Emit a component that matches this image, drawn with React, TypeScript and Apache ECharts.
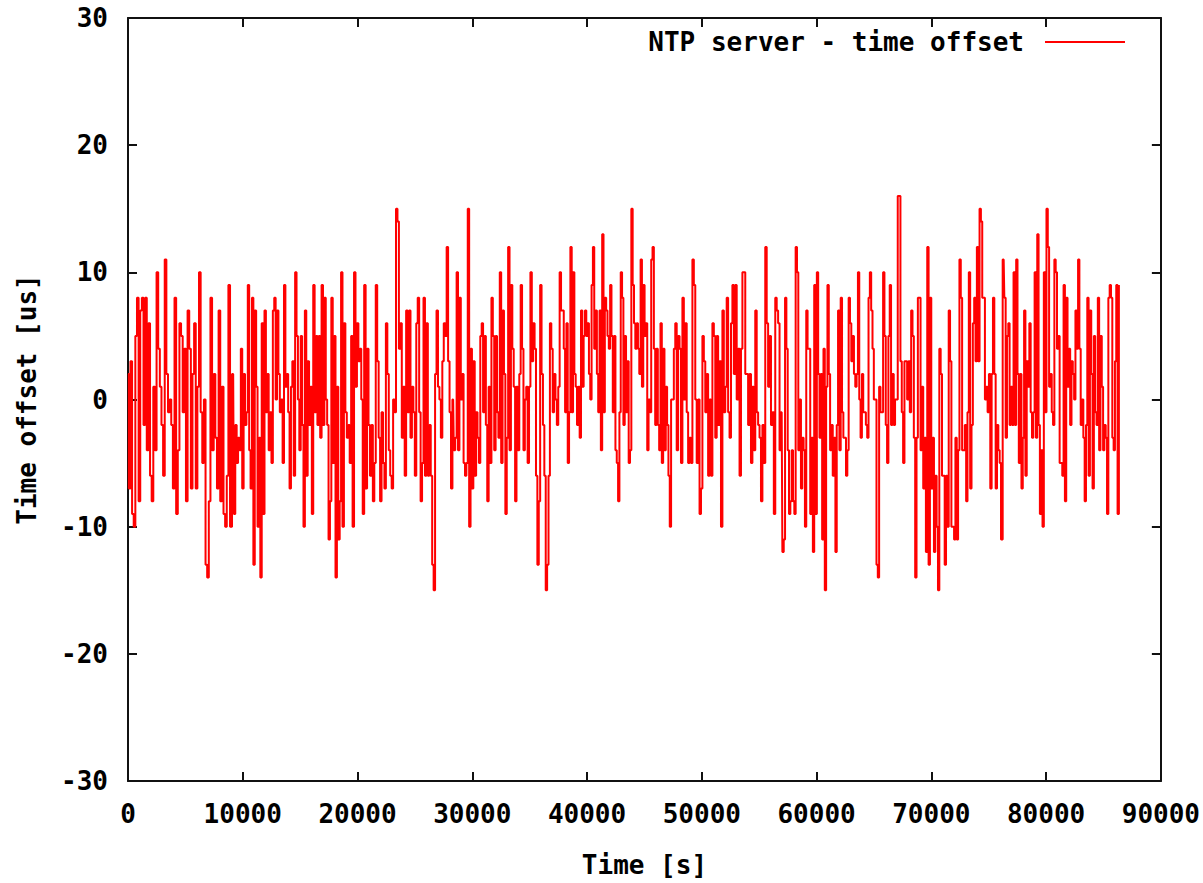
import React, { useEffect, useRef } from "react";
import * as echarts from "echarts";

// Time offset readings [us], read segment by segment across the day
const seg1 = [2, -7, 3, -9, -10, 5, 8, -8, 7, 8, -2, 8, -4, 6, -6, -8, 1, -4, 10, 4, 1, -2, -6, 11, 2, -1, 0, -2, -7, 8, -9, -4, 6, 5, -1, 4, -8, 7, 4, -7, 2, 6, -7, 1, 10, -1, -5, 0, -13, -14, -8, 8, -4, 2, -3, -7, 7, -8, 1, -9, -10, -6, 9, -10];
const seg2 = [2, -9, -2, -5, -3, -4, 4, -7, 2, -2, -1, 9, -4, -7, 8, -13, 7, 1, -10, -3, -14, 6, -9, 7, -1, 2, -4, -1, -5, 7, 8, 0, 7, 2, -1, 0, -5, 9, 1, 2, -1, -7, 1, 3, -6, 10, 5, 0, -4, 5, -2, -10, 7, -6, 3, -2, 1, -9, 9, -1, 5, -2, 5, -3, 9, -2, 8, 0, -2, -11, -8, 8, -5, 5, -14, 1, -11, -8, 10];
const seg3 = [-10, 6, -1, -3, -2, -5, 5, -10, 10, 1, 6, 3, 4, 0, -9, 9, -7, 4, -2, -6, -2, -8, -5, 9, 3, -3, -8, -1, -5, -7, 6, 2, -4, -6, -7, 0, -1, 15, 14, 4, 6, -3, 1, -6, 7, -1, 7, -3, 1, -1, -6, 6, 8, -1, -8, -5, 8, -6, 6, -6, -2, -6, -13, -15, 2, 7, 1, 0, -3, 3, 6, 5, 12, 3, -1, -7];
const seg4 = [0, -4, -3, 10, -4, 8, 0, 2, -5, -6, -5, 15, -10, 4, -7, 3, -6, -1, -3, -5, 5, 6, -1, 5, -2, -8, 1, -5, 8, 5, -4, 5, -1, -3, 10, -5, 7, 2, -9, -3, 12, -4, 9, 4, 1, -8, 1, -4, 2, 9, 4, -4, 0, 1, -5, 1, 10, 3, 6, 4, -6, -13, -8, 9, 2, -2, -6, -15, -13, -6, 6, 4, -1, 2, 0, -2, 1, 10, 7];
const seg5 = [7, 4, -1, 6, -5, -1, 12, -1, 10, 2, 1, -2, 1, -3, 7, 1, 5, 7, 5, 6, 2, 0, 9, 12, 4, 7, 2, -1, 7, -4, 13, -1, 8, 7, 5, 4, 9, 5, -1, 5, -4, -5, -8, -1, 10, 8, -2, 5, -1, 3, -5, -4, 15, 9, 6, 4, 6, 4, 2, 11, 1, 9, 5, 6, -4, 0, -1, 11, 12, 4, -2, 4, -2, -4, 6, -5, 4, -4, 1, -2, -6, -10, 0];
const seg6 = [0, 4, 6, -4, 5, 4, -5, 8, 0, 6, -1, -5, -3, -5, 11, 9, 0, -5, 0, -9, -7, 5, 3, -1, 2, -6, 0, -6, 6, 5, -3, 5, -2, 3, -10, 7, -1, 1, 8, -1, -3, 6, 9, 2, 9, 0, 4, -6, 4, 10, 10, 2, 2, -2, 2, -5, 1, -4, 7, -1, -2, -3, -8, -2, -5, 12, 6, 1, 5, -2, -1, -9, 8, 7, 6, -4, -1];
const seg7 = [-12, -11, 8, 4, -4, -9, -8, -4, -8, -9, 12, 10, -4, 0, -7, -3, -4, -10, 7, 4, 4, -9, -3, -12, 9, -9, 10, 2, -3, 2, -11, 4, -15, 1, 9, 2, -4, -2, -6, -3, -12, -2, 7, -4, 8, -1, -3, -3, -6, -4, 8, 6, 3, 5, 2, 1, 2, 10, 0, -3, 2, -1, -1, -2, -3, 8, 10, 7, 4, 0, 0, -13, -14, 1, -1, -1, 10, 5, -2, -5, 5, 9, -2];
const seg8 = [2, -2, 0, 0, 16, 16, 3, -1, -5, 3, 3, 0, 3, -1, 7, 5, -3, -14, -3, 8, 8, -4, 1, -7, -3, -12, 12, -13, 8, -7, -3, -12, -6, -10, -15, 4, 2, -6, -6, -13, -6, -10, 7, 3, -10, -10, -11, -3, -11, -4, 11, 8, -4, -4, -2, -8, -1, 10, -7, -2, 6, 8, 3, 12, 3, 15, 14, 8, 8, 0, 1, -1, 2, -7, 2, 8, 2, -7, -2, -4, -5, -11];
const seg9 = [11, 8, -3, 5, 6, -2, 1, -2, 10, -2, 11, 2, -5, 2, -7, -3, 7, -6, 3, 1, 6, -1, -3, -1, 10, -3, 13, -2, -9, -4, -10, 10, -1, 15, 12, 1, 2, -1, -2, 11, 10, 4, 5, -5, -5, -6, 9, -8, 8, 1, 4, -2, 3, 2, 0, 7, 4, 11, 4, -2, 0, -3, -8, -2, 8, -6, 7, 2, -7, 5, -1, -2, 8, -4, 5, 1, -4, -2, -3, -9, 8, 9, 8, -3, -4, 3, 9, -9, 9];

// Time [s] at which each segment starts / ends
const segBounds = [0, 9104, 18688, 28271, 37855, 47438, 57022, 66605, 76188, 86400];

const xTicks = { min: 0, max: 90000, interval: 10000 };
const yTicks = { min: -30, max: 30, interval: 10 };

const seriesName = "NTP server - time offset";
const xName = "Time [s]";
const yName = "Time offset [us]";

const FONT = '"DejaVu Sans Mono", "Liberation Mono", monospace';

export default function App() {
  const ref = useRef<HTMLDivElement>(null);

  useEffect(() => {
    if (!ref.current) return;
    const chart = echarts.init(ref.current, null, { renderer: "svg" });
    const segments = [seg1, seg2, seg3, seg4, seg5, seg6, seg7, seg8, seg9];
    const data: [number, number][] = [];
    segments.forEach((vals, k) => {
      const t0 = segBounds[k];
      const t1 = segBounds[k + 1];
      const n = vals.length;
      const dt = (t1 - t0) / n;
      const off = k === 0 ? 0 : k === segments.length - 1 ? 1 : 0.5;
      vals.forEach((v, j) => data.push([t0 + (j + off) * dt, v]));
    });

    const labelStyle = {
      fontFamily: FONT,
      fontWeight: "bold" as const,
      fontSize: 26,
      color: "#000",
    };
    const axisLine = { show: true, onZero: false, lineStyle: { color: "#111", width: 2 } };
    const axisTick = { show: true, inside: true, length: 9, lineStyle: { color: "#111", width: 2 } };

    chart.setOption({
      animation: false,
      backgroundColor: "#fff",
      grid: { left: 128, right: 42, top: 18, bottom: 98, containLabel: false },
      legend: {
        show: true,
        right: 78,
        top: 29,
        padding: 0,
        align: "right",
        itemWidth: 80,
        itemHeight: 2,
        data: [{ name: seriesName, icon: "rect" }],
        textStyle: { ...labelStyle, padding: [0, 16, 0, 0] },
        itemStyle: { color: "#ff0000" },
      },
      xAxis: [
        {
          type: "value",
          position: "bottom",
          min: xTicks.min,
          max: xTicks.max,
          interval: xTicks.interval,
          name: xName,
          nameLocation: "middle",
          nameGap: 71,
          nameTextStyle: labelStyle,
          axisLine,
          axisTick,
          axisLabel: { ...labelStyle, margin: 20, formatter: (v: number) => String(v) },
          splitLine: { show: false },
        },
        {
          type: "value",
          position: "top",
          min: xTicks.min,
          max: xTicks.max,
          interval: xTicks.interval,
          axisLine,
          axisTick,
          axisLabel: { show: false },
          splitLine: { show: false },
        },
      ],
      yAxis: [
        {
          type: "value",
          position: "left",
          min: yTicks.min,
          max: yTicks.max,
          interval: yTicks.interval,
          name: yName,
          nameLocation: "middle",
          nameGap: 88,
          nameRotate: 90,
          nameTextStyle: labelStyle,
          axisLine,
          axisTick,
          axisLabel: { ...labelStyle, margin: 20 },
          splitLine: { show: false },
        },
        {
          type: "value",
          position: "right",
          min: yTicks.min,
          max: yTicks.max,
          interval: yTicks.interval,
          axisLine,
          axisTick,
          axisLabel: { show: false },
          splitLine: { show: false },
        },
      ],
      series: [
        {
          name: seriesName,
          type: "line",
          xAxisIndex: 0,
          yAxisIndex: 0,
          data,
          step: "middle",
          showSymbol: false,
          symbol: "none",
          lineStyle: { color: "#ff0000", width: 2 },
          itemStyle: { color: "#ff0000" },
        },
      ],
    });
    return () => chart.dispose();
  }, []);

  return (
    <div
      ref={ref}
      style={{ position: "fixed", left: 0, top: 0, width: 1203, height: 883, background: "#fff" }}
    />
  );
}
